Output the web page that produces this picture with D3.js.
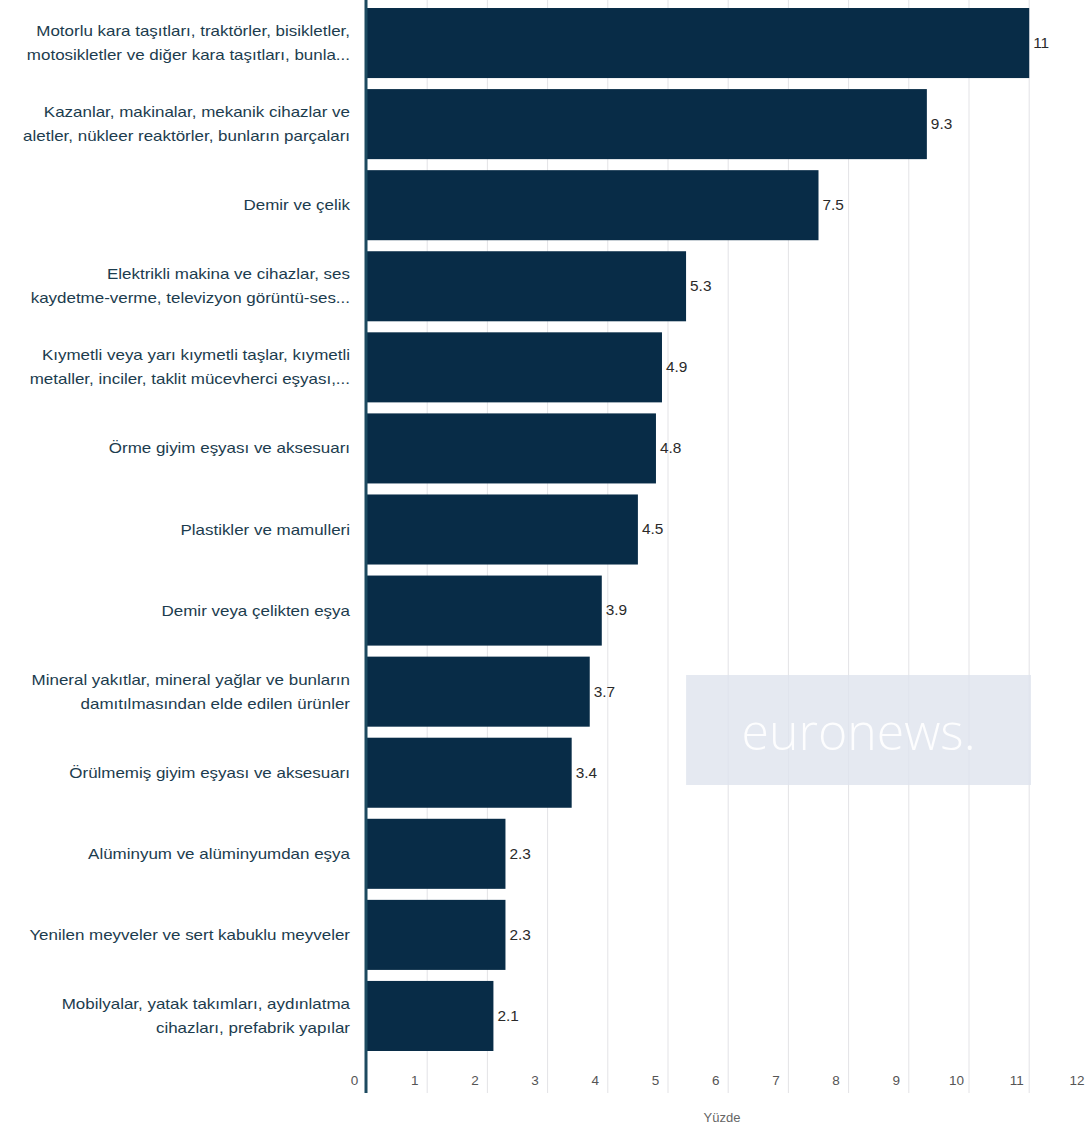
<!DOCTYPE html>
<html><head><meta charset="utf-8">
<script src="https://cdn.jsdelivr.net/npm/d3@7"></script>
<style>
html,body{margin:0;padding:0;background:#fff;}
svg{display:block;}
</style></head>
<body>
<svg id="chart" width="1088" height="1131"></svg>
<script>
const categories = [
  ["Motorlu kara taşıtları, traktörler, bisikletler,", "motosikletler ve diğer kara taşıtları, bunla..."],
  ["Kazanlar, makinalar, mekanik cihazlar ve", "aletler, nükleer reaktörler, bunların parçaları"],
  ["Demir ve çelik"],
  ["Elektrikli makina ve cihazlar, ses", "kaydetme-verme, televizyon görüntü-ses..."],
  ["Kıymetli veya yarı kıymetli taşlar, kıymetli", "metaller, inciler, taklit mücevherci eşyası,..."],
  ["Örme giyim eşyası ve aksesuarı"],
  ["Plastikler ve mamulleri"],
  ["Demir veya çelikten eşya"],
  ["Mineral yakıtlar, mineral yağlar ve bunların", "damıtılmasından elde edilen ürünler"],
  ["Örülmemiş giyim eşyası ve aksesuarı"],
  ["Alüminyum ve alüminyumdan eşya"],
  ["Yenilen meyveler ve sert kabuklu meyveler"],
  ["Mobilyalar, yatak takımları, aydınlatma", "cihazları, prefabrik yapılar"]
];
const values = [11, 9.3, 7.5, 5.3, 4.9, 4.8, 4.5, 3.9, 3.7, 3.4, 2.3, 2.3, 2.1];
const tickValues = [0,1,2,3,4,5,6,7,8,9,10,11,12];
const axisTitle = "Yüzde";
const watermark = "euronews.";

const svg = d3.select("#chart");
const x0 = 367;
const x = d3.scaleLinear().domain([0, 12]).range([x0, x0 + 12 * 60.2]);
const ids = categories.map((c, i) => i);
const y = d3.scaleBand().domain(ids).range([2.5, 1056.5]).paddingInner(0.136).paddingOuter(0.068);

const fontFam = "'Liberation Sans', Arial, sans-serif";
const gridBottom = 1093;
const sx = 1.17;

// gridlines
svg.append("g").selectAll("line").data(tickValues.filter(d => d > 0)).join("line")
  .attr("x1", d => x(d)).attr("x2", d => x(d))
  .attr("y1", 0).attr("y2", gridBottom)
  .attr("stroke", "#e3e3e6").attr("stroke-width", 1);

// watermark
const wm = svg.append("g");
const wx1 = x(5.3), wx2 = x(11.03);
wm.append("rect").attr("x", wx1).attr("y", 675).attr("width", wx2 - wx1).attr("height", 110)
  .attr("fill", "#dfe3ee").attr("fill-opacity", 0.8);
wm.append("text").attr("x", (wx1 + wx2) / 2).attr("y", 750)
  .attr("text-anchor", "middle").attr("font-family", "'Open Sans', 'DejaVu Sans', sans-serif")
  .attr("font-size", 50).attr("font-weight", 300).attr("fill", "#ffffff").attr("fill-opacity", 0.9)
  .text(watermark);

// bars
svg.append("g").selectAll("rect").data(values).join("rect")
  .attr("x", x(0)).attr("y", (d, i) => y(i))
  .attr("width", d => x(d) - x(0)).attr("height", y.bandwidth())
  .attr("fill", "#082c47");

// value labels
svg.append("g").selectAll("text").data(values).join("text")
  .attr("x", d => x(d) + 4).attr("y", (d, i) => y(i) + y.bandwidth() / 2)
  .attr("dy", "0.35em").attr("font-family", fontFam).attr("font-size", 14)
  .attr("fill", "#2a2a2a")
  .attr("transform", (d) => { const px = x(d) + 4; return `translate(${px},0) scale(1.1,1) translate(${-px},0)`; })
  .text(d => d);

// category labels
const lab = svg.append("g").selectAll("text").data(categories).join("text")
  .attr("text-anchor", "end").attr("font-family", fontFam).attr("font-size", 14.5)
  .attr("fill", "#1c3c4e")
  .attr("transform", `translate(350,0) scale(${sx},1) translate(-350,0)`);
lab.each(function(lines, i) {
  const t = d3.select(this);
  const cy = y(i) + y.bandwidth() / 2;
  const lh = 24;
  const start = cy - (lines.length - 1) * lh / 2;
  lines.forEach((ln, k) => {
    t.append("tspan").attr("x", 350).attr("y", start + k * lh).attr("dy", "0.35em").text(ln);
  });
});

// axis line (left)
svg.append("line").attr("x1", x0 - 1).attr("x2", x0 - 1).attr("y1", 0).attr("y2", gridBottom)
  .attr("stroke", "#1d4a60").attr("stroke-width", 3);

// x axis via d3 axis
const ax = d3.axisBottom(x).tickValues(tickValues).tickSize(0).tickPadding(0).tickFormat(d3.format("d"));
const axg = svg.append("g").attr("transform", "translate(-13,1075)").call(ax);
axg.select(".domain").remove();
axg.selectAll("text").attr("font-family", fontFam).attr("font-size", 13.5).attr("fill", "#555");

svg.append("text").attr("x", 722).attr("y", 1122).attr("text-anchor", "middle")
  .attr("font-family", fontFam).attr("font-size", 13).attr("fill", "#666").text(axisTitle);
</script>
</body></html>
